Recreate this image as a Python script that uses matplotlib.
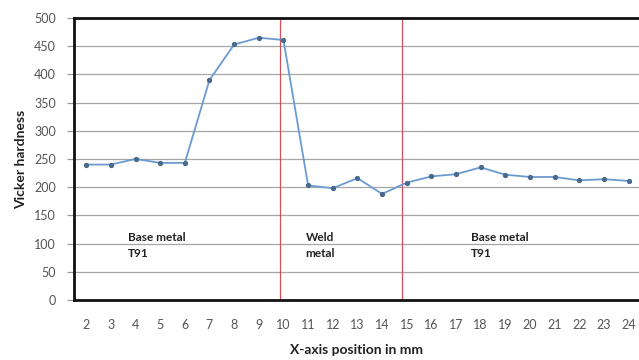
import matplotlib
matplotlib.use('Agg')
import matplotlib.pyplot as plt

positions = list(range(2, 25))
hardness = [240, 240, 250, 243, 243, 390, 453, 465, 461, 203, 198, 216, 188,
            208, 219, 223, 235, 222, 218, 218, 212, 214, 211]
zone_edges = [9.85, 14.8]
zone_labels = [(3.7, 'Base metal\nT91'), (10.9, 'Weld\nmetal'), (17.6, 'Base metal\nT91')]
y_ticks = list(range(0, 501, 50))

plt.rcParams['font.family'] = ['Lato', 'DejaVu Sans']

fig = plt.figure(figsize=(6.39, 3.6), dpi=100)
ax = fig.add_axes([0.116, 0.167, 0.884, 0.783])

for y in y_ticks[1:-1]:
    ax.axhline(y, color='#a6a6a6', lw=0.9, zorder=1)

for xe in zone_edges:
    ax.axvline(xe, color='#d0505a', lw=0.9, zorder=2)

ax.plot(positions, hardness, color='#6b9bd0', lw=1.3, marker='o', markersize=2.8,
        markerfacecolor='#4a6a8c', markeredgecolor='#4a6a8c', zorder=3)

for xt, label in zone_labels:
    ax.text(xt, 121, label, fontsize=8.5, fontweight='bold', color='#222222',
            va='top', ha='left', linespacing=1.6, zorder=4)

ax.set_xlim(1.51, 24.42)
ax.set_ylim(0, 500)
ax.set_xticks(positions)
ax.set_yticks(y_ticks)
ax.tick_params(axis='x', length=0, pad=14, labelsize=9, labelcolor='#555555')
ax.tick_params(axis='y', length=5, width=0.9, color='#999999', pad=8,
               labelsize=9, labelcolor='#555555')

for side in ['left', 'top', 'bottom']:
    ax.spines[side].set_linewidth(2)
    ax.spines[side].set_color('#111111')
ax.spines['right'].set_visible(False)

ax.set_ylabel('Vicker hardness', fontsize=10, fontweight='bold', color='#222222', labelpad=5)
ax.set_xlabel('X-axis position in mm', fontsize=10, fontweight='bold', color='#222222', labelpad=9)

fig.savefig('out.png', dpi=100)
